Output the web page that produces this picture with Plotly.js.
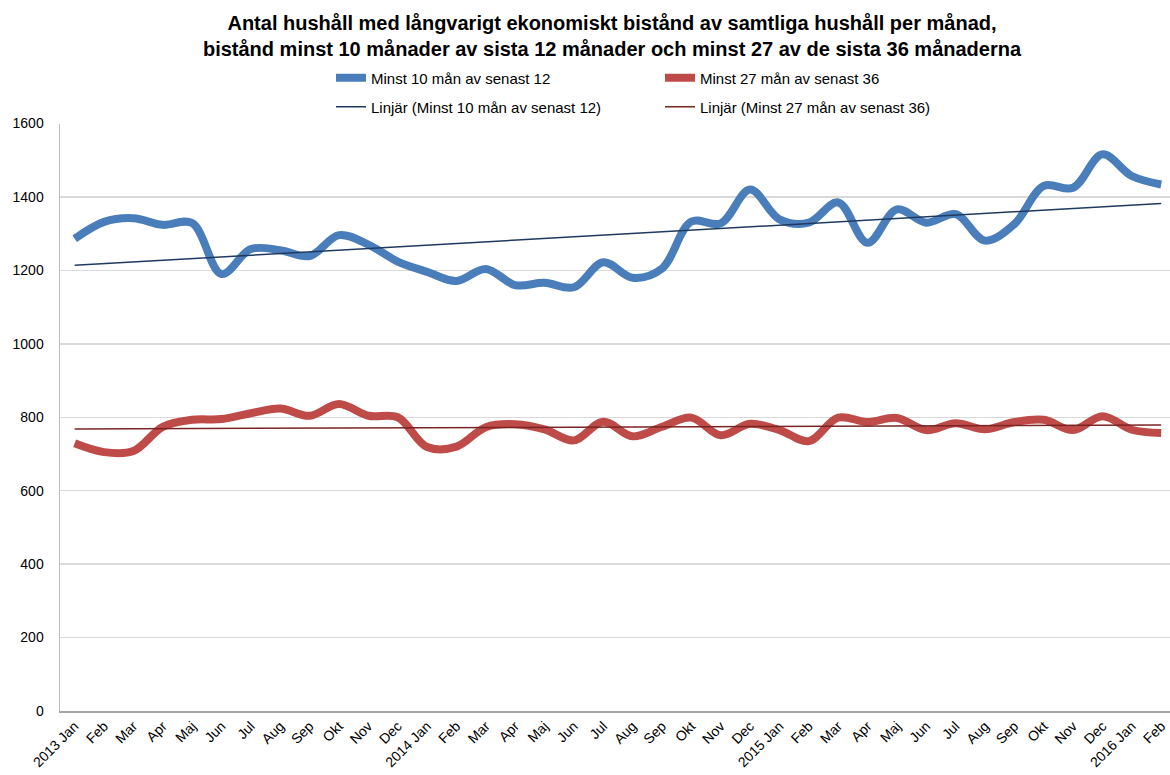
<!DOCTYPE html>
<html><head><meta charset="utf-8">
<script src="https://cdn.plot.ly/plotly-3.0.1.min.js"></script>
<style>html,body{margin:0;padding:0;background:#fff}#chart{width:1170px;height:775px}</style>
</head><body><div id="chart"></div>
<script>
const months = ['2013 Jan','Feb','Mar','Apr','Maj','Jun','Jul','Aug','Sep','Okt','Nov','Dec',
  '2014 Jan','Feb','Mar','Apr','Maj','Jun','Jul','Aug','Sep','Okt','Nov','Dec',
  '2015 Jan','Feb','Mar','Apr','Maj','Jun','Jul','Aug','Sep','Okt','Nov','Dec',
  '2016 Jan','Feb'];
const minst10av12 = [1286,1332,1342,1324,1329,1190,1258,1255,1239,1296,1270,1224,
  1196,1171,1204,1160,1166,1154,1222,1180,1205,1333,1328,1420,
  1339,1330,1385,1275,1366,1330,1353,1281,1326,1430,1425,1516,
  1457,1434];
const minst27av36 = [729,705,708,774,793,795,811,824,804,836,804,800,
  719,720,773,781,767,737,788,748,774,799,751,782,
  765,735,799,787,798,765,784,767,787,793,765,803,
  766,757];
const yTicks = [0,200,400,600,800,1000,1200,1400,1600];

const xs = months.map((_, i) => i);
function linfit(y) {
  const n = y.length;
  const mx = xs.reduce((a,b)=>a+b,0)/n, my = y.reduce((a,b)=>a+b,0)/n;
  let sxy = 0, sxx = 0;
  for (let i=0;i<n;i++){ sxy += (xs[i]-mx)*(y[i]-my); sxx += (xs[i]-mx)**2; }
  const b = sxy/sxx, a = my - b*mx;
  return xs.map(x => a + b*x);
}
const font = '"Liberation Sans", Arial, sans-serif';
const data = [
  {x: xs, y: minst10av12, type:'scatter', mode:'lines', name:'Minst 10 mån av senast 12',
   line:{color:'#4A7EBB', width:8, shape:'spline', smoothing:1}, legend:'legend'},
  {x: xs, y: minst27av36, type:'scatter', mode:'lines', name:'Minst 27 mån av senast 36',
   line:{color:'#BE4B48', width:8, shape:'spline', smoothing:1}, legend:'legend'},
  {x: xs, y: linfit(minst10av12), type:'scatter', mode:'lines', name:'Linjär (Minst 10 mån av senast 12)',
   line:{color:'#1F3A60', width:1.5}, legend:'legend2'},
  {x: xs, y: linfit(minst27av36), type:'scatter', mode:'lines', name:'Linjär (Minst 27 mån av senast 36)',
   line:{color:'#7A2523', width:1.5}, legend:'legend2'}
];
const legendBase = {orientation:'h', xref:'container', yref:'container', x:331/1170, xanchor:'left',
  yanchor:'middle', entrywidth:284, entrywidthmode:'pixels', font:{family:font, size:15, color:'#000'},
  bgcolor:'rgba(0,0,0,0)', itemwidth:30, tracegroupgap:0};
const layout = {
  width:1170, height:775, paper_bgcolor:'#fff', plot_bgcolor:'#fff',
  margin:{l:60, r:0, t:122, b:64},
  title:{text:'<b>Antal hushåll med långvarigt ekonomiskt bistånd av samtliga hushåll per månad,<br>bistånd minst 10 månader av sista 12 månader och minst 27 av de sista 36 månaderna</b>',
    font:{family:font, size:20, color:'#000'}, x:612/1170, xanchor:'center', y:1-30/775, yanchor:'middle', yref:'container'},
  showlegend:true,
  legend: Object.assign({}, legendBase, {y:1-78/775}),
  legend2: Object.assign({}, legendBase, {y:1-107/775}),
  xaxis:{range:[-0.5, 37.3], tickmode:'array', tickvals:xs, ticktext:months, tickangle:-45,
    showgrid:false, zeroline:false, showline:true, linecolor:'#A6A6A6', linewidth:1.5,
    ticks:'', tickfont:{family:font, size:14, color:'#000'}, automargin:false, ticklabeloverflow:'allow'},
  yaxis:{range:[0,1600], tickmode:'array', tickvals:yTicks, ticktext:yTicks.map(String),
    showgrid:true, gridcolor:'#D9D9D9', gridwidth:1.5, zeroline:false, showline:true, linecolor:'#BFBFBF', linewidth:1.5,
    ticks:'', ticklabelstandoff:12, tickfont:{family:font, size:14, color:'#000'}, automargin:false}
};
Plotly.newPlot('chart', data, layout, {displayModeBar:false, staticPlot:true});
</script></body></html>
